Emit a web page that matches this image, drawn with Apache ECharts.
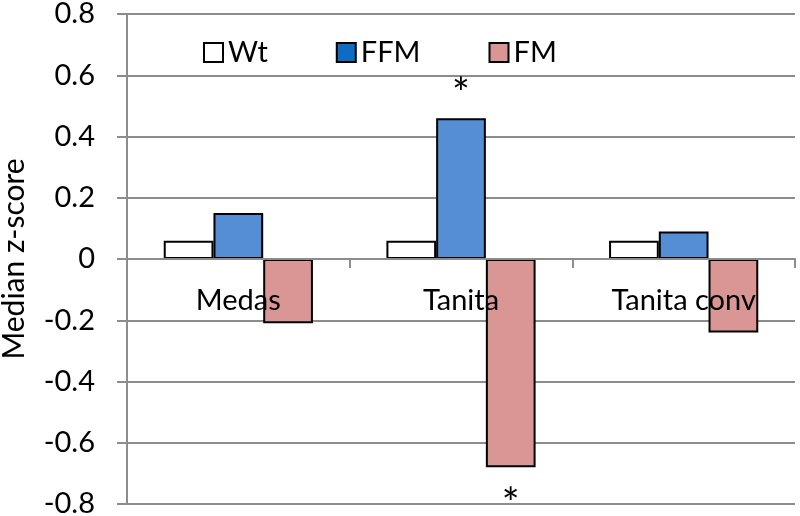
<!DOCTYPE html>
<html>
<head>
<meta charset="utf-8">
<script src="https://cdn.jsdelivr.net/npm/echarts@6/dist/echarts.min.js"></script>
<style>
  html, body { margin: 0; padding: 0; background: #fff; }
  #chart { width: 800px; height: 516px; }
</style>
</head>
<body>
<div id="chart"></div>
<script>
// data
const categories = ['Medas', 'Tanita', 'Tanita conv']
const wtValues = [0.06, 0.06, 0.06]
const ffmValues = [0.15, 0.46, 0.09]
const fmValues = [-0.21, -0.68, -0.24]
// significance marks (index of category)
const ffmStars = [1]
const fmStars = [1]

const FONT = 'Lato, "Open Sans", sans-serif'
const chart = echarts.init(document.getElementById('chart'))

//把星号挂在柱子上
const withStars = (values, stars, pos) => values.map((v, i) => {
  if (stars.indexOf(i) < 0) return v
  return {
    value: v,
    label: {
      show: true,
      position: pos,
      formatter: '*',
      fontSize: 42,
      color: '#000',
      fontFamily: FONT,
      distance: pos === 'top' ? 3 : 16
    }
  }
})

const option = {
  backgroundColor: '#fff',
  animation: false,
  textStyle: { fontFamily: FONT },
  grid: { left: 127, right: 5, top: 14, bottom: 12, outerBoundsMode: 'none', containLabel: false },
  legend: {
    left: 198,
    top: 33,
    itemWidth: 19,
    itemHeight: 19,
    itemGap: 68,
    icon: 'rect',
    textStyle: { fontSize: 29, color: '#000', fontFamily: FONT },
    data: [
      { name: 'Wt', itemStyle: { color: '#fff', borderColor: '#000', borderWidth: 2 } },
      { name: 'FFM', itemStyle: { color: '#0E6CC4', borderColor: '#000', borderWidth: 2 } },
      { name: 'FM', itemStyle: { color: '#D99694', borderColor: '#000', borderWidth: 2 } }
    ]
  },
  xAxis: {
    type: 'category',
    data: categories,
    // 轴放到 0 线上(标签跟着走),画在柱子上面
    offset: -245,
    z: 5,
    axisLine: { onZero: false, lineStyle: { color: '#8c8c8c', width: 2 } },
    axisTick: { show: true, length: 9, lineStyle: { color: '#8c8c8c', width: 2 } },
    axisLabel: { fontSize: 29, color: '#000', margin: 27, fontFamily: FONT },
    splitLine: { show: false }
  },
  yAxis: {
    type: 'value',
    min: -0.8,
    max: 0.8,
    interval: 0.2,
    name: 'Median z-score',
    nameLocation: 'middle',
    nameGap: 98,
    nameTextStyle: { fontSize: 30, color: '#000', fontFamily: FONT },
    axisLine: { show: true, lineStyle: { color: '#8c8c8c', width: 2 } },
    axisTick: { show: true, length: 10, lineStyle: { color: '#8c8c8c', width: 2 } },
    axisLabel: {
      fontSize: 29,
      color: '#000',
      margin: 32,
      fontFamily: FONT,
      formatter: v => String(+v.toFixed(1))
    },
    splitLine: { show: true, lineStyle: { color: '#8c8c8c', width: 2 } }
  },
  series: [
    {
      name: 'Wt',
      type: 'bar',
      barGap: '0%',
      barCategoryGap: '33%',
      itemStyle: { color: '#fff', borderColor: '#000', borderWidth: 2 },
      data: wtValues
    },
    {
      name: 'FFM',
      type: 'bar',
      itemStyle: { color: '#558ED5', borderColor: '#000', borderWidth: 2 },
      data: withStars(ffmValues, ffmStars, 'top')
    },
    {
      name: 'FM',
      type: 'bar',
      itemStyle: { color: '#D99694', borderColor: '#000', borderWidth: 2 },
      data: withStars(fmValues, fmStars, 'bottom')
    }
  ]
}
chart.setOption(option)
</script>
</body>
</html>
